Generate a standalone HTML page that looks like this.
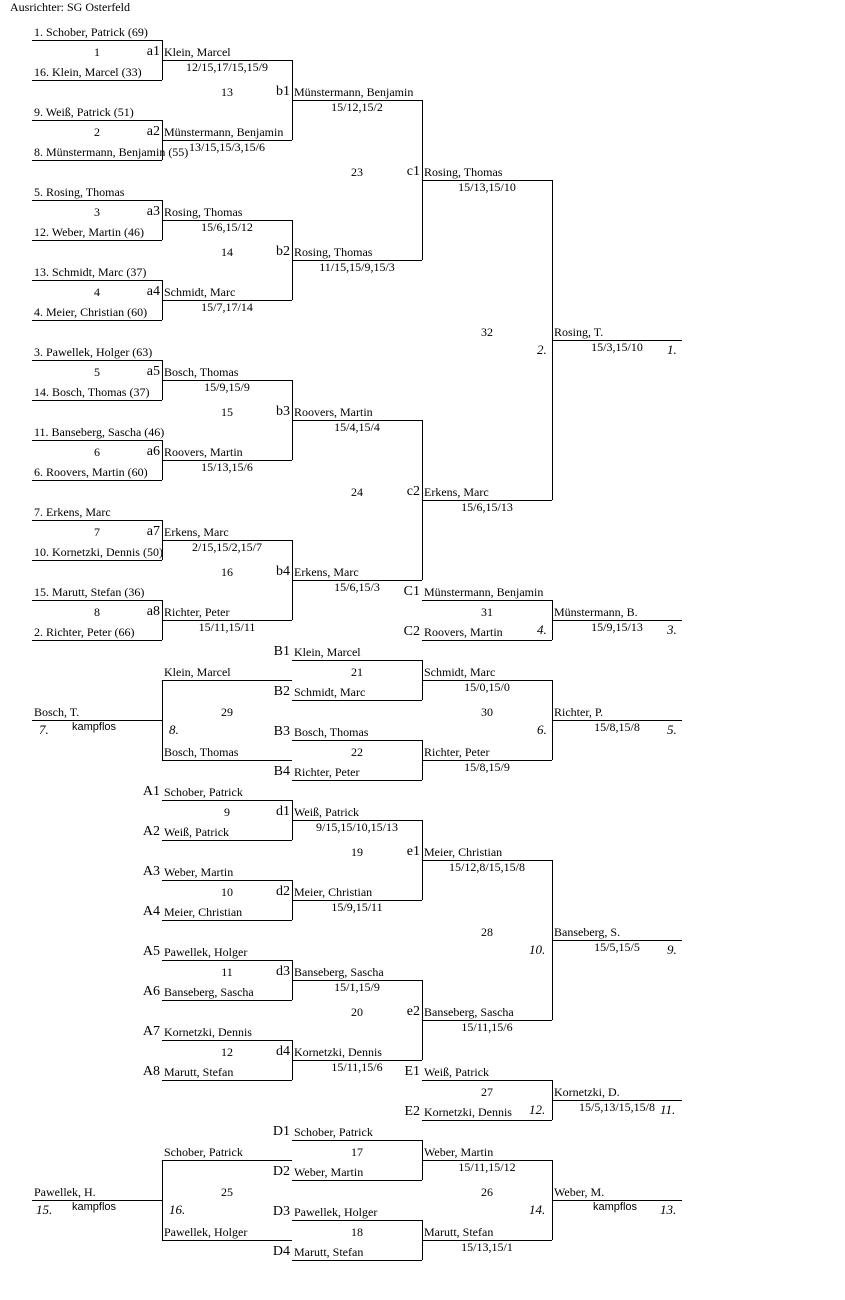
<!DOCTYPE html>
<html><head><meta charset="utf-8"><style>
body{margin:0;background:#fff;width:845px;height:1300px;position:relative;overflow:hidden}
div{position:absolute}
.h{height:0;border-top:1px solid #000;width:130px}
.v{width:0;border-left:1px solid #000}
.t{font:12px/13px "Liberation Serif",serif;white-space:nowrap;color:#000}
.s{width:130px;text-align:center}
.n{width:130px;text-align:center}
.l{font:14px/15px "Liberation Serif",serif;width:38px;text-align:right;white-space:nowrap}
.i{font:italic 13px/14px "Liberation Serif",serif;white-space:nowrap}
.k{font:11px/13px "Liberation Sans",sans-serif;white-space:nowrap}
</style></head><body>
<div class="t" style="left:10px;top:1px">Ausrichter: SG Osterfeld</div>

<!-- Round 1 lines -->
<div class="h" style="left:32px;top:40px"></div><div class="h" style="left:32px;top:80px"></div><div class="v" style="left:162px;top:40px;height:40px"></div>
<div class="h" style="left:32px;top:120px"></div><div class="h" style="left:32px;top:160px"></div><div class="v" style="left:162px;top:120px;height:40px"></div>
<div class="h" style="left:32px;top:200px"></div><div class="h" style="left:32px;top:240px"></div><div class="v" style="left:162px;top:200px;height:40px"></div>
<div class="h" style="left:32px;top:280px"></div><div class="h" style="left:32px;top:320px"></div><div class="v" style="left:162px;top:280px;height:40px"></div>
<div class="h" style="left:32px;top:360px"></div><div class="h" style="left:32px;top:400px"></div><div class="v" style="left:162px;top:360px;height:40px"></div>
<div class="h" style="left:32px;top:440px"></div><div class="h" style="left:32px;top:480px"></div><div class="v" style="left:162px;top:440px;height:40px"></div>
<div class="h" style="left:32px;top:520px"></div><div class="h" style="left:32px;top:560px"></div><div class="v" style="left:162px;top:520px;height:40px"></div>
<div class="h" style="left:32px;top:600px"></div><div class="h" style="left:32px;top:640px"></div><div class="v" style="left:162px;top:600px;height:40px"></div>
<div class="t" style="left:34px;top:26px">1. Schober, Patrick (69)</div>
<div class="t" style="left:34px;top:66px">16. Klein, Marcel (33)</div>
<div class="t" style="left:34px;top:106px">9. Weiß, Patrick (51)</div>
<div class="t" style="left:34px;top:146px">8. Münstermann, Benjamin (55)</div>
<div class="t" style="left:34px;top:186px">5. Rosing, Thomas</div>
<div class="t" style="left:34px;top:226px">12. Weber, Martin (46)</div>
<div class="t" style="left:34px;top:266px">13. Schmidt, Marc (37)</div>
<div class="t" style="left:34px;top:306px">4. Meier, Christian (60)</div>
<div class="t" style="left:34px;top:346px">3. Pawellek, Holger (63)</div>
<div class="t" style="left:34px;top:386px">14. Bosch, Thomas (37)</div>
<div class="t" style="left:34px;top:426px">11. Banseberg, Sascha (46)</div>
<div class="t" style="left:34px;top:466px">6. Roovers, Martin (60)</div>
<div class="t" style="left:34px;top:506px">7. Erkens, Marc</div>
<div class="t" style="left:34px;top:546px">10. Kornetzki, Dennis (50)</div>
<div class="t" style="left:34px;top:586px">15. Marutt, Stefan (36)</div>
<div class="t" style="left:34px;top:626px">2. Richter, Peter (66)</div>

<!-- Round 2 -->
<div class="h" style="left:162px;top:60px"></div><div class="h" style="left:162px;top:140px"></div><div class="v" style="left:292px;top:60px;height:80px"></div>
<div class="h" style="left:162px;top:220px"></div><div class="h" style="left:162px;top:300px"></div><div class="v" style="left:292px;top:220px;height:80px"></div>
<div class="h" style="left:162px;top:380px"></div><div class="h" style="left:162px;top:460px"></div><div class="v" style="left:292px;top:380px;height:80px"></div>
<div class="h" style="left:162px;top:540px"></div><div class="h" style="left:162px;top:620px"></div><div class="v" style="left:292px;top:540px;height:80px"></div>
<div class="t n" style="left:32px;top:46px">1</div><div class="l" style="left:122px;top:44px">a1</div>
<div class="t" style="left:164px;top:46px">Klein, Marcel</div><div class="t s" style="left:162px;top:61px">12/15,17/15,15/9</div>
<div class="t n" style="left:32px;top:126px">2</div><div class="l" style="left:122px;top:124px">a2</div>
<div class="t" style="left:164px;top:126px">Münstermann, Benjamin</div><div class="t s" style="left:162px;top:141px">13/15,15/3,15/6</div>
<div class="t n" style="left:32px;top:206px">3</div><div class="l" style="left:122px;top:204px">a3</div>
<div class="t" style="left:164px;top:206px">Rosing, Thomas</div><div class="t s" style="left:162px;top:221px">15/6,15/12</div>
<div class="t n" style="left:32px;top:286px">4</div><div class="l" style="left:122px;top:284px">a4</div>
<div class="t" style="left:164px;top:286px">Schmidt, Marc</div><div class="t s" style="left:162px;top:301px">15/7,17/14</div>
<div class="t n" style="left:32px;top:366px">5</div><div class="l" style="left:122px;top:364px">a5</div>
<div class="t" style="left:164px;top:366px">Bosch, Thomas</div><div class="t s" style="left:162px;top:381px">15/9,15/9</div>
<div class="t n" style="left:32px;top:446px">6</div><div class="l" style="left:122px;top:444px">a6</div>
<div class="t" style="left:164px;top:446px">Roovers, Martin</div><div class="t s" style="left:162px;top:461px">15/13,15/6</div>
<div class="t n" style="left:32px;top:526px">7</div><div class="l" style="left:122px;top:524px">a7</div>
<div class="t" style="left:164px;top:526px">Erkens, Marc</div><div class="t s" style="left:162px;top:541px">2/15,15/2,15/7</div>
<div class="t n" style="left:32px;top:606px">8</div><div class="l" style="left:122px;top:604px">a8</div>
<div class="t" style="left:164px;top:606px">Richter, Peter</div><div class="t s" style="left:162px;top:621px">15/11,15/11</div>

<!-- Round 3 -->
<div class="h" style="left:292px;top:100px"></div><div class="h" style="left:292px;top:260px"></div><div class="v" style="left:422px;top:100px;height:160px"></div>
<div class="h" style="left:292px;top:420px"></div><div class="h" style="left:292px;top:580px"></div><div class="v" style="left:422px;top:420px;height:160px"></div>
<div class="t n" style="left:162px;top:86px">13</div><div class="l" style="left:252px;top:84px">b1</div>
<div class="t" style="left:294px;top:86px">Münstermann, Benjamin</div><div class="t s" style="left:292px;top:101px">15/12,15/2</div>
<div class="t n" style="left:162px;top:246px">14</div><div class="l" style="left:252px;top:244px">b2</div>
<div class="t" style="left:294px;top:246px">Rosing, Thomas</div><div class="t s" style="left:292px;top:261px">11/15,15/9,15/3</div>
<div class="t n" style="left:162px;top:406px">15</div><div class="l" style="left:252px;top:404px">b3</div>
<div class="t" style="left:294px;top:406px">Roovers, Martin</div><div class="t s" style="left:292px;top:421px">15/4,15/4</div>
<div class="t n" style="left:162px;top:566px">16</div><div class="l" style="left:252px;top:564px">b4</div>
<div class="t" style="left:294px;top:566px">Erkens, Marc</div><div class="t s" style="left:292px;top:581px">15/6,15/3</div>

<!-- Round 4 -->
<div class="h" style="left:422px;top:180px"></div><div class="h" style="left:422px;top:500px"></div><div class="v" style="left:552px;top:180px;height:320px"></div>
<div class="t n" style="left:292px;top:166px">23</div><div class="l" style="left:382px;top:164px">c1</div>
<div class="t" style="left:424px;top:166px">Rosing, Thomas</div><div class="t s" style="left:422px;top:181px">15/13,15/10</div>
<div class="t n" style="left:292px;top:486px">24</div><div class="l" style="left:382px;top:484px">c2</div>
<div class="t" style="left:424px;top:486px">Erkens, Marc</div><div class="t s" style="left:422px;top:501px">15/6,15/13</div>

<!-- Final -->
<div class="h" style="left:552px;top:340px"></div>
<div class="t n" style="left:422px;top:326px">32</div>
<div class="t" style="left:554px;top:326px">Rosing, T.</div><div class="t s" style="left:552px;top:341px">15/3,15/10</div>
<div class="i" style="left:537px;top:343px">2.</div><div class="i" style="left:667px;top:343px">1.</div>

<!-- C section -->
<div class="h" style="left:422px;top:600px"></div><div class="h" style="left:422px;top:640px"></div><div class="v" style="left:552px;top:600px;height:40px"></div>
<div class="h" style="left:552px;top:620px"></div>
<div class="l" style="left:382px;top:584px">C1</div><div class="l" style="left:382px;top:624px">C2</div>
<div class="t" style="left:424px;top:586px">Münstermann, Benjamin</div>
<div class="t" style="left:424px;top:626px">Roovers, Martin</div>
<div class="t n" style="left:422px;top:606px">31</div>
<div class="t" style="left:554px;top:606px">Münstermann, B.</div><div class="t s" style="left:552px;top:621px">15/9,15/13</div>
<div class="i" style="left:537px;top:623px">4.</div><div class="i" style="left:667px;top:623px">3.</div>

<!-- B section -->
<div class="h" style="left:292px;top:660px"></div><div class="h" style="left:292px;top:700px"></div><div class="v" style="left:422px;top:660px;height:40px"></div>
<div class="h" style="left:292px;top:740px"></div><div class="h" style="left:292px;top:780px"></div><div class="v" style="left:422px;top:740px;height:40px"></div>
<div class="h" style="left:422px;top:680px"></div><div class="h" style="left:422px;top:760px"></div><div class="v" style="left:552px;top:680px;height:80px"></div>
<div class="h" style="left:552px;top:720px"></div>
<div class="l" style="left:252px;top:644px">B1</div><div class="l" style="left:252px;top:684px">B2</div>
<div class="l" style="left:252px;top:724px">B3</div><div class="l" style="left:252px;top:764px">B4</div>
<div class="t" style="left:294px;top:646px">Klein, Marcel</div>
<div class="t" style="left:294px;top:686px">Schmidt, Marc</div>
<div class="t" style="left:294px;top:726px">Bosch, Thomas</div>
<div class="t" style="left:294px;top:766px">Richter, Peter</div>
<div class="t n" style="left:292px;top:666px">21</div>
<div class="t n" style="left:292px;top:746px">22</div>
<div class="t" style="left:424px;top:666px">Schmidt, Marc</div><div class="t s" style="left:422px;top:681px">15/0,15/0</div>
<div class="t" style="left:424px;top:746px">Richter, Peter</div><div class="t s" style="left:422px;top:761px">15/8,15/9</div>
<div class="t n" style="left:422px;top:706px">30</div>
<div class="t" style="left:554px;top:706px">Richter, P.</div><div class="t s" style="left:552px;top:721px">15/8,15/8</div>
<div class="i" style="left:537px;top:723px">6.</div><div class="i" style="left:667px;top:723px">5.</div>
<div class="h" style="left:162px;top:680px"></div><div class="h" style="left:162px;top:760px"></div><div class="v" style="left:162px;top:680px;height:80px"></div>
<div class="h" style="left:32px;top:720px"></div>
<div class="t" style="left:164px;top:666px">Klein, Marcel</div>
<div class="t" style="left:164px;top:746px">Bosch, Thomas</div>
<div class="t n" style="left:162px;top:706px">29</div>
<div class="t" style="left:34px;top:706px">Bosch, T.</div>
<div class="i" style="left:39px;top:723px">7.</div><div class="k" style="left:72px;top:721px">kampflos</div>
<div class="i" style="left:169px;top:723px">8.</div>

<!-- A section -->
<div class="h" style="left:162px;top:800px"></div><div class="h" style="left:162px;top:840px"></div><div class="v" style="left:292px;top:800px;height:40px"></div>
<div class="h" style="left:162px;top:880px"></div><div class="h" style="left:162px;top:920px"></div><div class="v" style="left:292px;top:880px;height:40px"></div>
<div class="h" style="left:162px;top:960px"></div><div class="h" style="left:162px;top:1000px"></div><div class="v" style="left:292px;top:960px;height:40px"></div>
<div class="h" style="left:162px;top:1040px"></div><div class="h" style="left:162px;top:1080px"></div><div class="v" style="left:292px;top:1040px;height:40px"></div>
<div class="l" style="left:122px;top:784px">A1</div><div class="l" style="left:122px;top:824px">A2</div>
<div class="l" style="left:122px;top:864px">A3</div><div class="l" style="left:122px;top:904px">A4</div>
<div class="l" style="left:122px;top:944px">A5</div><div class="l" style="left:122px;top:984px">A6</div>
<div class="l" style="left:122px;top:1024px">A7</div><div class="l" style="left:122px;top:1064px">A8</div>
<div class="t" style="left:164px;top:786px">Schober, Patrick</div>
<div class="t" style="left:164px;top:826px">Weiß, Patrick</div>
<div class="t" style="left:164px;top:866px">Weber, Martin</div>
<div class="t" style="left:164px;top:906px">Meier, Christian</div>
<div class="t" style="left:164px;top:946px">Pawellek, Holger</div>
<div class="t" style="left:164px;top:986px">Banseberg, Sascha</div>
<div class="t" style="left:164px;top:1026px">Kornetzki, Dennis</div>
<div class="t" style="left:164px;top:1066px">Marutt, Stefan</div>
<div class="h" style="left:292px;top:820px"></div><div class="h" style="left:292px;top:900px"></div><div class="v" style="left:422px;top:820px;height:80px"></div>
<div class="h" style="left:292px;top:980px"></div><div class="h" style="left:292px;top:1060px"></div><div class="v" style="left:422px;top:980px;height:80px"></div>
<div class="t n" style="left:162px;top:806px">9</div><div class="l" style="left:252px;top:804px">d1</div>
<div class="t" style="left:294px;top:806px">Weiß, Patrick</div><div class="t s" style="left:292px;top:821px">9/15,15/10,15/13</div>
<div class="t n" style="left:162px;top:886px">10</div><div class="l" style="left:252px;top:884px">d2</div>
<div class="t" style="left:294px;top:886px">Meier, Christian</div><div class="t s" style="left:292px;top:901px">15/9,15/11</div>
<div class="t n" style="left:162px;top:966px">11</div><div class="l" style="left:252px;top:964px">d3</div>
<div class="t" style="left:294px;top:966px">Banseberg, Sascha</div><div class="t s" style="left:292px;top:981px">15/1,15/9</div>
<div class="t n" style="left:162px;top:1046px">12</div><div class="l" style="left:252px;top:1044px">d4</div>
<div class="t" style="left:294px;top:1046px">Kornetzki, Dennis</div><div class="t s" style="left:292px;top:1061px">15/11,15/6</div>
<div class="h" style="left:422px;top:860px"></div><div class="h" style="left:422px;top:1020px"></div><div class="v" style="left:552px;top:860px;height:160px"></div>
<div class="t n" style="left:292px;top:846px">19</div><div class="l" style="left:382px;top:844px">e1</div>
<div class="t" style="left:424px;top:846px">Meier, Christian</div><div class="t s" style="left:422px;top:861px">15/12,8/15,15/8</div>
<div class="t n" style="left:292px;top:1006px">20</div><div class="l" style="left:382px;top:1004px">e2</div>
<div class="t" style="left:424px;top:1006px">Banseberg, Sascha</div><div class="t s" style="left:422px;top:1021px">15/11,15/6</div>
<div class="h" style="left:552px;top:940px"></div>
<div class="t n" style="left:422px;top:926px">28</div>
<div class="t" style="left:554px;top:926px">Banseberg, S.</div><div class="t s" style="left:552px;top:941px">15/5,15/5</div>
<div class="i" style="left:529px;top:943px">10.</div><div class="i" style="left:667px;top:943px">9.</div>

<!-- E section -->
<div class="h" style="left:422px;top:1080px"></div><div class="h" style="left:422px;top:1120px"></div><div class="v" style="left:552px;top:1080px;height:40px"></div>
<div class="h" style="left:552px;top:1100px"></div>
<div class="l" style="left:382px;top:1064px">E1</div><div class="l" style="left:382px;top:1104px">E2</div>
<div class="t" style="left:424px;top:1066px">Weiß, Patrick</div>
<div class="t" style="left:424px;top:1106px">Kornetzki, Dennis</div>
<div class="t n" style="left:422px;top:1086px">27</div>
<div class="t" style="left:554px;top:1086px">Kornetzki, D.</div><div class="t s" style="left:552px;top:1101px">15/5,13/15,15/8</div>
<div class="i" style="left:529px;top:1103px">12.</div><div class="i" style="left:660px;top:1103px">11.</div>

<!-- D section -->
<div class="h" style="left:292px;top:1140px"></div><div class="h" style="left:292px;top:1180px"></div><div class="v" style="left:422px;top:1140px;height:40px"></div>
<div class="h" style="left:292px;top:1220px"></div><div class="h" style="left:292px;top:1260px"></div><div class="v" style="left:422px;top:1220px;height:40px"></div>
<div class="h" style="left:422px;top:1160px"></div><div class="h" style="left:422px;top:1240px"></div><div class="v" style="left:552px;top:1160px;height:80px"></div>
<div class="h" style="left:552px;top:1200px"></div>
<div class="l" style="left:252px;top:1124px">D1</div><div class="l" style="left:252px;top:1164px">D2</div>
<div class="l" style="left:252px;top:1204px">D3</div><div class="l" style="left:252px;top:1244px">D4</div>
<div class="t" style="left:294px;top:1126px">Schober, Patrick</div>
<div class="t" style="left:294px;top:1166px">Weber, Martin</div>
<div class="t" style="left:294px;top:1206px">Pawellek, Holger</div>
<div class="t" style="left:294px;top:1246px">Marutt, Stefan</div>
<div class="t n" style="left:292px;top:1146px">17</div>
<div class="t n" style="left:292px;top:1226px">18</div>
<div class="t" style="left:424px;top:1146px">Weber, Martin</div><div class="t s" style="left:422px;top:1161px">15/11,15/12</div>
<div class="t" style="left:424px;top:1226px">Marutt, Stefan</div><div class="t s" style="left:422px;top:1241px">15/13,15/1</div>
<div class="t n" style="left:422px;top:1186px">26</div>
<div class="t" style="left:554px;top:1186px">Weber, M.</div><div class="k" style="left:593px;top:1201px">kampflos</div>
<div class="i" style="left:529px;top:1203px">14.</div><div class="i" style="left:660px;top:1203px">13.</div>
<div class="h" style="left:162px;top:1160px"></div><div class="h" style="left:162px;top:1240px"></div><div class="v" style="left:162px;top:1160px;height:80px"></div>
<div class="h" style="left:32px;top:1200px"></div>
<div class="t" style="left:164px;top:1146px">Schober, Patrick</div>
<div class="t" style="left:164px;top:1226px">Pawellek, Holger</div>
<div class="t n" style="left:162px;top:1186px">25</div>
<div class="t" style="left:34px;top:1186px">Pawellek, H.</div>
<div class="i" style="left:36px;top:1203px">15.</div><div class="k" style="left:72px;top:1201px">kampflos</div>
<div class="i" style="left:169px;top:1203px">16.</div>
</body></html>
